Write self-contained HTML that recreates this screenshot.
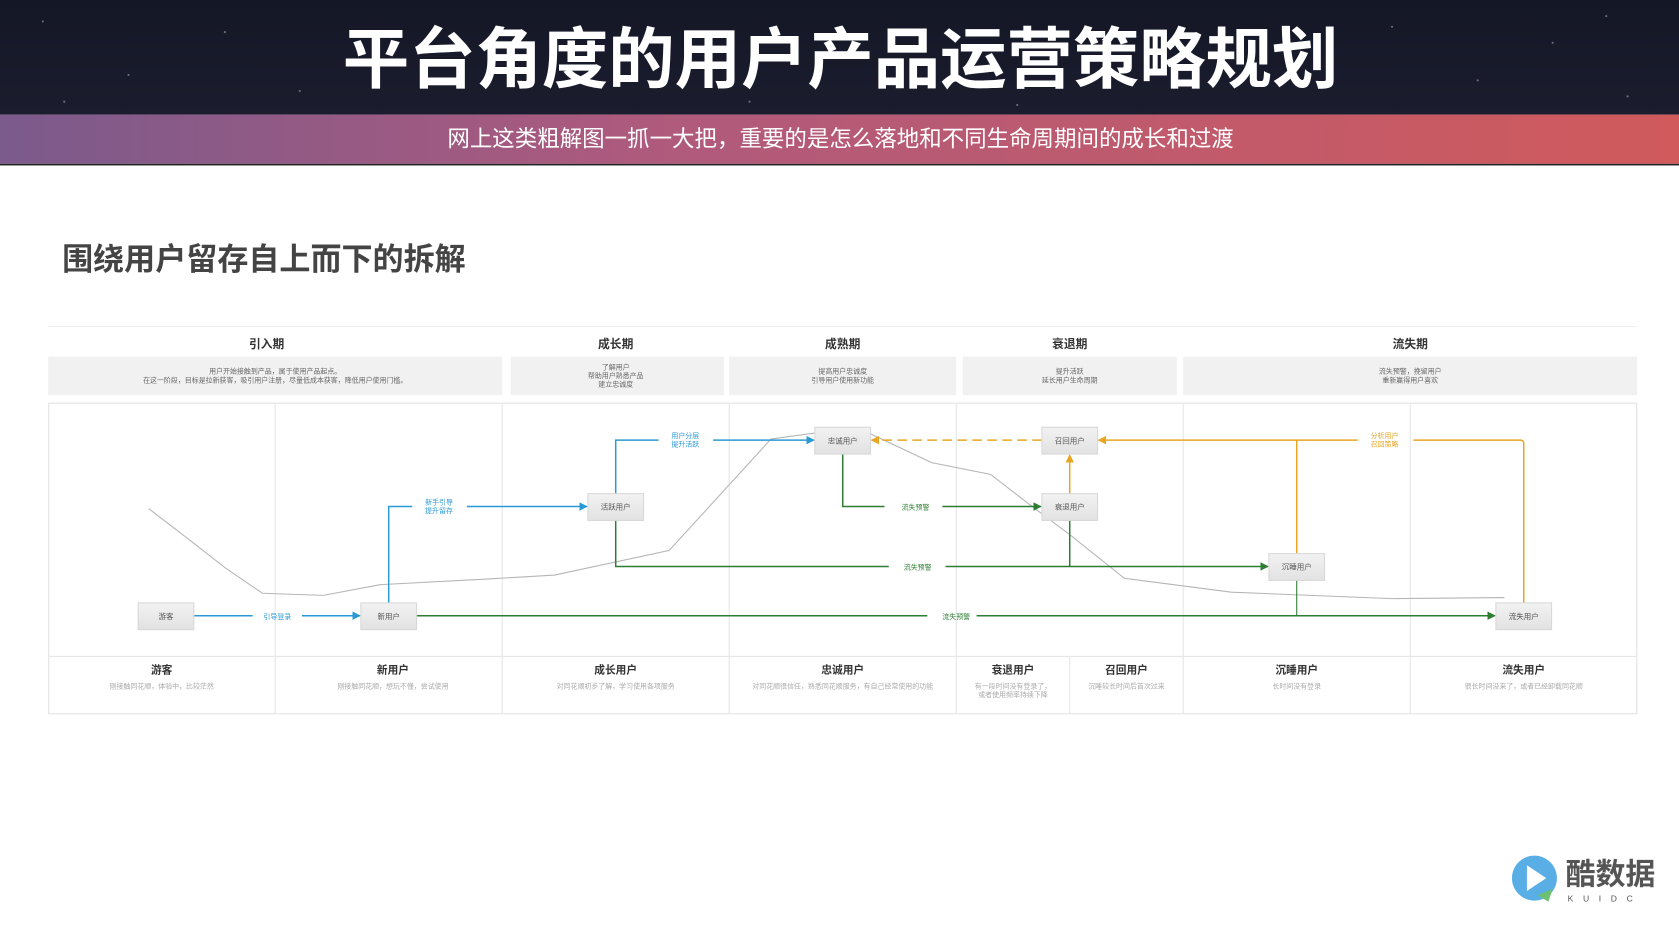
<!DOCTYPE html>
<html><head><meta charset="utf-8"><style>
html,body{margin:0;padding:0;width:1679px;height:925px;overflow:hidden;background:#fff}
svg{display:block}
text{font-family:"Liberation Sans","Noto Sans CJK SC",sans-serif}
</style></head><body>
<svg width="1679" height="925" viewBox="0 0 1568 863.8" preserveAspectRatio="none" xmlns="http://www.w3.org/2000/svg">
<defs>
<linearGradient id="hd" x1="0" y1="0" x2="0" y2="1"><stop offset="0" stop-color="#141726"/><stop offset="1" stop-color="#1b1d2e"/></linearGradient>
<linearGradient id="bd" x1="0" y1="0" x2="1" y2="0"><stop offset="0" stop-color="#7b5a8c"/><stop offset="0.4" stop-color="#b05a7c"/><stop offset="1" stop-color="#d05a5c"/></linearGradient>
<linearGradient id="nb" x1="0" y1="0" x2="0" y2="1"><stop offset="0" stop-color="#f2f2f2"/><stop offset="1" stop-color="#e2e2e2"/></linearGradient>
<marker id="ab" markerWidth="8" markerHeight="8" refX="7" refY="4" orient="auto" markerUnits="userSpaceOnUse"><path d="M0,0 L8,4 L0,8z" fill="#2a9ad6"/></marker>
<marker id="ag" markerWidth="8" markerHeight="8" refX="7" refY="4" orient="auto" markerUnits="userSpaceOnUse"><path d="M0,0 L8,4 L0,8z" fill="#2e7d32"/></marker>
<marker id="ao" markerWidth="8" markerHeight="8" refX="7" refY="4" orient="auto" markerUnits="userSpaceOnUse"><path d="M0,0 L8,4 L0,8z" fill="#e8a623"/></marker>
</defs>
<rect x="0" y="0" width="1568" height="107" fill="url(#hd)"/>
<g fill="#9aa" opacity="0.6">
<circle cx="40" cy="20" r="1"/><circle cx="120" cy="70" r="1"/><circle cx="210" cy="30" r="1"/><circle cx="280" cy="85" r="1"/><circle cx="1300" cy="25" r="1"/><circle cx="1380" cy="75" r="1"/><circle cx="1450" cy="40" r="1"/><circle cx="1520" cy="90" r="1"/><circle cx="60" cy="95" r="1"/><circle cx="1500" cy="15" r="1"/><circle cx="700" cy="95" r="1"/><circle cx="950" cy="98" r="1"/>
</g>
<text x="785" y="77" text-anchor="middle" font-size="62" font-weight="bold" fill="#fff">平台角度的用户产品运营策略规划</text>
<rect x="0" y="107" width="1568" height="46" fill="url(#bd)"/>
<rect x="0" y="153" width="1568" height="1.5" fill="#222"/>
<text x="785" y="137" text-anchor="middle" font-size="21" fill="#fff">网上这类粗解图一抓一大把，重要的是怎么落地和不同生命周期间的成长和过渡</text>
<text x="58" y="252" font-size="29" font-weight="bold" fill="#444">围绕用户留存自上而下的拆解</text>

<line x1="45" y1="305" x2="1529" y2="305" stroke="#eee"/>
<g font-size="11" font-weight="bold" fill="#333" text-anchor="middle">
<text x="249" y="325">引入期</text><text x="575" y="325">成长期</text><text x="787" y="325">成熟期</text><text x="999" y="325">衰退期</text><text x="1317" y="325">流失期</text>
</g>
<g fill="#f1f1f1">
<rect x="45" y="333" width="424" height="36"/><rect x="477" y="333" width="199" height="36"/><rect x="681" y="333" width="212" height="36"/><rect x="899" y="333" width="200" height="36"/><rect x="1105" y="333" width="424" height="36"/>
</g>
<g font-size="6.5" fill="#666" text-anchor="middle">
<text x="257" y="349">用户开始接触到产品，属于使用产品起点。</text>
<text x="257" y="357">在这一阶段，目标是拉新获客，吸引用户注册，尽量低成本获客，降低用户使用门槛。</text>
<text x="575" y="345">了解用户</text><text x="575" y="353">帮助用户熟悉产品</text><text x="575" y="361">建立忠诚度</text>
<text x="787" y="349">提高用户忠诚度</text><text x="787" y="357">引导用户使用新功能</text>
<text x="999" y="349">提升活跃</text><text x="999" y="357">延长用户生命周期</text>
<text x="1317" y="349">流失预警，挽留用户</text><text x="1317" y="357">重新赢得用户喜欢</text>
</g>

<rect x="45.5" y="376.5" width="1483" height="290" fill="none" stroke="#e2e2e2"/>
<g stroke="#e6e6e6">
<line x1="257" y1="377" x2="257" y2="666"/><line x1="469" y1="377" x2="469" y2="666"/><line x1="681" y1="377" x2="681" y2="666"/><line x1="893" y1="377" x2="893" y2="666"/><line x1="1105" y1="377" x2="1105" y2="666"/><line x1="1317" y1="377" x2="1317" y2="666"/><line x1="999" y1="613" x2="999" y2="666"/>
<line x1="45" y1="613" x2="1529" y2="613"/>
</g>

<polyline points="139,475 178,505 210,530 245,554 302,556 355,546 450,541 518,537 625,514 720,410 800,399 870,432 925,443 960,470 1000,500 1050,540 1150,553 1300,559 1405,558" fill="none" stroke="#b5b5b5" stroke-width="1"/>

<g fill="none" stroke-width="1.4">
<path d="M181,575 H236 M282,575 H336" stroke="#2a9ad6"/>
<path d="M282,575 H336" stroke="#2a9ad6" marker-end="url(#ab)"/>
<path d="M363,563 V473 H385" stroke="#2a9ad6"/>
<path d="M436,473 H548" stroke="#2a9ad6" marker-end="url(#ab)"/>
<path d="M575,461 V411 H615" stroke="#2a9ad6"/>
<path d="M666,411 H760" stroke="#2a9ad6" marker-end="url(#ab)"/>
<path d="M787,424 V473 H826" stroke="#2e7d32"/>
<path d="M880,473 H972" stroke="#2e7d32" marker-end="url(#ag)"/>
<path d="M575,486 V529 H830" stroke="#2e7d32"/>
<path d="M883,529 H1184" stroke="#2e7d32" marker-end="url(#ag)"/>
<path d="M999,486 V529" stroke="#2e7d32"/>
<path d="M389,575 H866" stroke="#2e7d32"/>
<path d="M912,575 H1396" stroke="#2e7d32" marker-end="url(#ag)"/>
<path d="M1211,542 V575" stroke="#2e7d32" stroke-width="1"/>
<path d="M999,461 V425" stroke="#e8a623" marker-end="url(#ao)"/>
<path d="M973,411 H814" stroke="#e8a623" stroke-dasharray="9,5" marker-end="url(#ao)"/>
<path d="M1423,563 V414 Q1423,411 1420,411 H1320" stroke="#e8a623"/>
<path d="M1268,411 H1026" stroke="#e8a623" marker-end="url(#ao)"/>
<path d="M1211,517 V411" stroke="#e8a623"/>
</g>
<g font-size="6.5" text-anchor="middle">
<text x="259" y="578" fill="#2a9ad6">引导登录</text>
<text x="410" y="471" fill="#2a9ad6">新手引导</text><text x="410" y="479" fill="#2a9ad6">提升留存</text>
<text x="640" y="409" fill="#2a9ad6">用户分层</text><text x="640" y="417" fill="#2a9ad6">提升活跃</text>
<text x="855" y="476" fill="#2e7d32">流失预警</text>
<text x="857" y="532" fill="#2e7d32">流失预警</text>
<text x="893" y="578" fill="#2e7d32">流失预警</text>
<text x="1293" y="409" fill="#e8a623">分析用户</text><text x="1293" y="417" fill="#e8a623">召回策略</text>
</g>
<g stroke="#d8d8d8" fill="url(#nb)">
<rect x="129" y="563" width="52" height="25"/><rect x="337" y="563" width="52" height="25"/><rect x="549" y="461" width="52" height="25"/><rect x="761" y="399" width="52" height="25"/><rect x="973" y="399" width="52" height="25"/><rect x="973" y="461" width="52" height="25"/><rect x="1185" y="517" width="52" height="25"/><rect x="1397" y="563" width="52" height="25"/>
</g>
<g font-size="7" fill="#555" text-anchor="middle">
<text x="155" y="578">游客</text><text x="363" y="578">新用户</text><text x="575" y="476">活跃用户</text><text x="787" y="414">忠诚用户</text><text x="999" y="414">召回用户</text><text x="999" y="476">衰退用户</text><text x="1211" y="532">沉睡用户</text><text x="1423" y="578">流失用户</text>
</g>

<g font-size="10" font-weight="bold" fill="#333" text-anchor="middle">
<text x="151" y="629">游客</text><text x="367" y="629">新用户</text><text x="575" y="629">成长用户</text><text x="787" y="629">忠诚用户</text><text x="946" y="629">衰退用户</text><text x="1052" y="629">召回用户</text><text x="1211" y="629">沉睡用户</text><text x="1423" y="629">流失用户</text>
</g>
<g font-size="6.5" fill="#aaa" text-anchor="middle">
<text x="151" y="643">刚接触同花顺，体验中，比较茫然</text>
<text x="367" y="643">刚接触同花顺，想玩不懂，尝试使用</text>
<text x="575" y="643">对同花顺初步了解，学习使用各项服务</text>
<text x="787" y="643">对同花顺很信任，熟悉同花顺服务，有自己经常使用的功能</text>
<text x="946" y="643">有一段时间没有登录了，</text><text x="946" y="651">或者使用频率持续下降</text>
<text x="1052" y="643">沉睡较长时间后首次过来</text>
<text x="1211" y="643">长时间没有登录</text>
<text x="1423" y="643">很长时间没来了，或者已经卸载同花顺</text>
</g>

<circle cx="1433" cy="820" r="21" fill="#5aaee6"/>
<path d="M1426,808 L1444,820 L1426,832z" fill="#fff"/>
<path d="M1436,836 L1450,830 L1446,842z" fill="#6cc070"/>
<text x="1462" y="826" font-size="28" font-weight="bold" fill="#555" font-family="'Noto Serif CJK SC',serif">酷数据</text>
<text x="1464" y="842" font-size="8" fill="#555" letter-spacing="9">KUIDC</text>
</svg>
</body></html>
